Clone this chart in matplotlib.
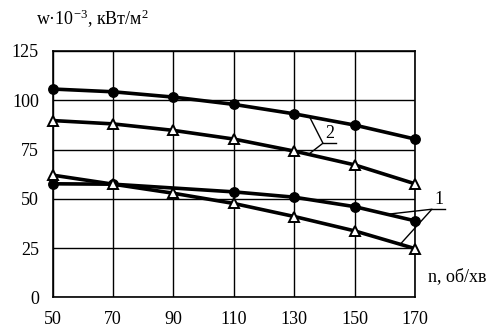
import matplotlib.pyplot as plt
import numpy as np

plt.rcParams['font.family'] = ['Liberation Serif', 'DejaVu Serif']
plt.rcParams['mathtext.fontset'] = 'custom'
plt.rcParams['mathtext.rm'] = 'Liberation Serif'
plt.rcParams['mathtext.it'] = 'Liberation Serif'

n = [50, 70, 90, 110, 130, 150, 170]
n_c1 = [50, 70, 110, 130, 150, 170]

w2_circ = [105.7, 104.3, 101.6, 97.9, 93.1, 87.4, 80.3]
w2_tri = [89.7, 88.0, 84.7, 80.3, 74.2, 67.2, 57.6]
w1_circ = [57.6, 57.4, 53.5, 50.8, 46.0, 38.8]
w1_tri = [62.0, 57.4, 52.8, 47.6, 41.0, 33.7, 24.7]

yticks = [0, 25, 50, 75, 100, 125]

fs = 13

fig = plt.figure(figsize=(4.99, 3.29), dpi=100)
ax = fig.add_axes([0.1056, 0.0964, 0.7261, 0.7486])

ax.set_xlim(50, 170)
ax.set_ylim(0, 125)
ax.set_xticks(n)
ax.set_yticks(yticks)
ax.grid(True, color='black', linewidth=1.0)
ax.set_axisbelow(True)
for s in ax.spines.values():
    s.set_linewidth(1.2)
ax.tick_params(length=0, labelsize=fs)
ax.tick_params(axis='x', pad=10)
ax.tick_params(axis='y', pad=10)

lw = 2.6
ax.plot(n, w2_circ, color='black', lw=lw, marker='o', ms=6.8, clip_on=False, zorder=3)
ax.plot(n_c1, w1_circ, color='black', lw=lw, marker='o', ms=6.8, clip_on=False, zorder=3)
ax.plot(n, w2_tri, color='black', lw=lw, marker='^', ms=6.5, mfc='white',
        mec='black', mew=1.4, clip_on=False, zorder=4)
ax.plot(n, w1_tri, color='black', lw=lw, marker='^', ms=6.5, mfc='white',
        mec='black', mew=1.4, clip_on=False, zorder=4)

# leader lines for curve labels
ax.plot([135.1, 139.5, 135.3], [91.5, 78.2, 73.2], color='black', lw=1.0, zorder=5)
ax.plot([139.5, 143.8], [78.2, 78.2], color='black', lw=1.0, zorder=5)
ax.text(141.7, 78.9, '2', fontsize=fs, ha='center', va='bottom')

ax.plot([161.8, 175.6, 165.4], [42.3, 44.7, 27.4], color='black', lw=1.0,
        clip_on=False, zorder=5)
ax.plot([175.6, 180.0], [44.7, 44.7], color='black', lw=1.0, clip_on=False, zorder=5)
ax.text(177.8, 45.2, '1', fontsize=fs, ha='center', va='bottom')

fig.text(36 / 499, 1 - 25 / 329, 'w·10$^{-3}$, кВт/м$^{2}$', fontsize=fs,
         ha='left', va='baseline')
fig.text(428 / 499, 1 - 281 / 329, 'n, об/хв', fontsize=fs,
         ha='left', va='baseline')

fig.savefig('out.png', dpi=100)
